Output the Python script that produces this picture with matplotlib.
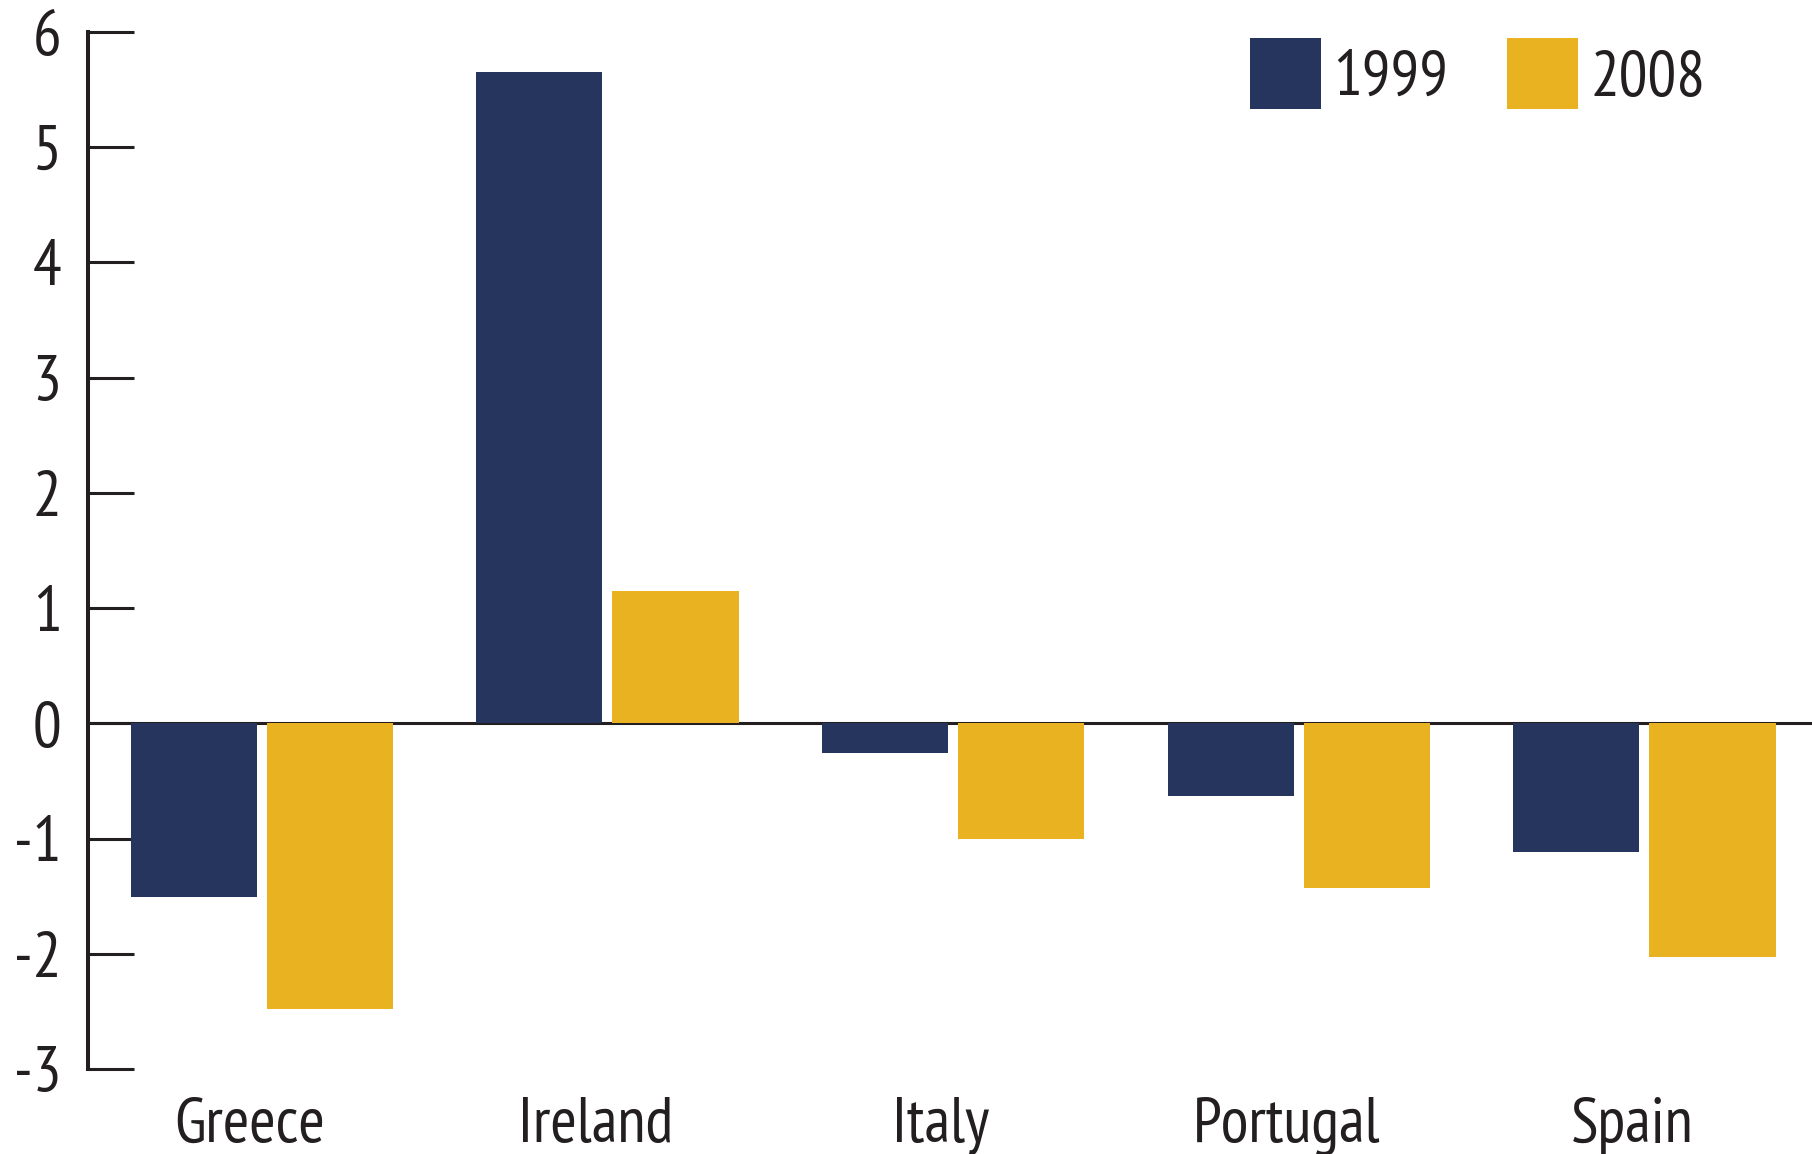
import matplotlib
matplotlib.use("Agg")
import matplotlib.pyplot as plt
import numpy as np
from matplotlib.patches import Patch

countries = ["Greece", "Ireland", "Italy", "Portugal", "Spain"]
years = ["1999", "2008"]
values_1999 = [-1.51, 5.65, -0.26, -0.63, -1.12]
values_2008 = [-2.48, 1.15, -1.00, -1.43, -2.03]
yticks = [-3, -2, -1, 0, 1, 2, 3, 4, 5, 6]

navy = "#26355E"
gold = "#E9B220"
ink = "#231F20"

plt.rcParams['font.family'] = ['PT Sans Narrow', 'Fira Sans Extra Condensed',
                               'Sofia Sans Condensed', 'Asap Condensed', 'DejaVu Sans']
FS = 46

fig = plt.figure(figsize=(18.12, 11.54), dpi=100)
ax = fig.add_axes([88/1812, 1 - 1069/1154, 1 - 88/1812, (1069 - 32)/1154])

x = np.arange(len(countries))
w = 0.365
off = 0.197
ax.bar(x - off, values_1999, width=w, color=navy, zorder=3, label=years[0])
ax.bar(x + off, values_2008, width=w, color=gold, zorder=3, label=years[1])
ax.axhline(0, color=ink, lw=2.2, zorder=2)

ax.set_xlim(-0.503, 4.485)
ax.set_ylim(-3, 6)
ax.set_yticks(yticks)
ax.set_yticklabels([str(t) for t in yticks], fontsize=FS, color=ink)
ax.set_xticks(x - 0.035)
ax.set_xticklabels(countries, fontsize=FS, color=ink)

for s in ["top", "right", "bottom"]:
    ax.spines[s].set_visible(False)
ax.spines["left"].set_linewidth(2.9)
ax.spines["left"].set_color(ink)
ax.tick_params(axis="y", direction="in", length=33, width=2.2, color=ink, pad=19)
ax.tick_params(axis="x", length=0, pad=20)

handles = [Patch(facecolor=navy, edgecolor="none"), Patch(facecolor=gold, edgecolor="none")]
fpx = FS * 100 / 72
leg = ax.legend(handles, years, loc="upper left", bbox_to_anchor=(1250/1812, 1 - 37.5/1154),
                bbox_transform=fig.transFigure, ncol=2, frameon=False, fontsize=FS,
                handlelength=71/fpx, handleheight=71/(0.82*fpx), handletextpad=12/fpx,
                columnspacing=59/fpx, borderpad=0, borderaxespad=0)
for t in leg.get_texts():
    t.set_color(ink)

fig.savefig("out.png", dpi=100)
